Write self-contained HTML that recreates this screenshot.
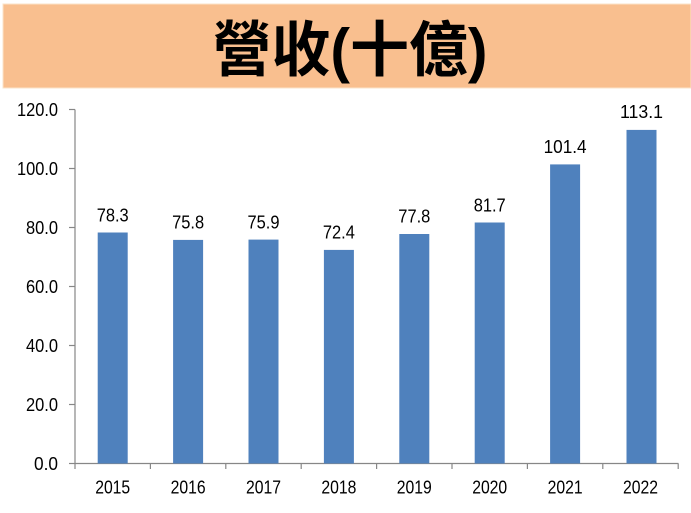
<!DOCTYPE html>
<html>
<head>
<meta charset="utf-8">
<style>
html,body{margin:0;padding:0;background:#fff;}
svg{display:block;}
</style>
</head>
<body>
<svg width="691" height="513" viewBox="0 0 691 513" xmlns="http://www.w3.org/2000/svg">
  <rect x="0" y="0" width="691" height="513" fill="#ffffff"/>
  <!-- banner -->
  <rect x="3" y="4" width="688" height="84" fill="#F9BF8F" stroke="#FBE3C8" stroke-width="1"/>
  <text x="350" y="71" text-anchor="middle" font-family="'Liberation Sans','Noto Sans CJK TC',sans-serif" font-weight="bold" font-size="60" fill="#000" textLength="275" lengthAdjust="spacingAndGlyphs">營收(十億)</text>

  <!-- axes -->
  <g stroke="#878787" stroke-width="1.2" fill="none">
    <line x1="75" y1="109.5" x2="75" y2="463.5"/>
    <line x1="75" y1="463.5" x2="678.5" y2="463.5"/>
    <line x1="69" y1="109.5" x2="75" y2="109.5"/>
    <line x1="69" y1="168.5" x2="75" y2="168.5"/>
    <line x1="69" y1="227.5" x2="75" y2="227.5"/>
    <line x1="69" y1="286.5" x2="75" y2="286.5"/>
    <line x1="69" y1="345.5" x2="75" y2="345.5"/>
    <line x1="69" y1="404.5" x2="75" y2="404.5"/>
    <line x1="69" y1="463.5" x2="75" y2="463.5"/>
    <line x1="75" y1="463.5" x2="75" y2="469"/>
    <line x1="150.4" y1="463.5" x2="150.4" y2="469"/>
    <line x1="225.8" y1="463.5" x2="225.8" y2="469"/>
    <line x1="301.2" y1="463.5" x2="301.2" y2="469"/>
    <line x1="376.6" y1="463.5" x2="376.6" y2="469"/>
    <line x1="452" y1="463.5" x2="452" y2="469"/>
    <line x1="527.4" y1="463.5" x2="527.4" y2="469"/>
    <line x1="602.8" y1="463.5" x2="602.8" y2="469"/>
    <line x1="678.2" y1="463.5" x2="678.2" y2="469"/>
  </g>

  <!-- y labels -->
  <g font-family="'Liberation Sans',sans-serif" font-size="18" fill="#000" text-anchor="end" lengthAdjust="spacingAndGlyphs">
    <text x="58" y="116" textLength="41" lengthAdjust="spacingAndGlyphs">120.0</text>
    <text x="58" y="175" textLength="41" lengthAdjust="spacingAndGlyphs">100.0</text>
    <text x="58" y="234" textLength="32" lengthAdjust="spacingAndGlyphs">80.0</text>
    <text x="58" y="293" textLength="32" lengthAdjust="spacingAndGlyphs">60.0</text>
    <text x="58" y="352" textLength="32" lengthAdjust="spacingAndGlyphs">40.0</text>
    <text x="58" y="411" textLength="32" lengthAdjust="spacingAndGlyphs">20.0</text>
    <text x="58" y="470" textLength="24" lengthAdjust="spacingAndGlyphs">0.0</text>
  </g>

  <!-- bars -->
  <g fill="#4F81BD">
    <rect x="97.7" y="232.5" width="30" height="231"/>
    <rect x="173.1" y="239.9" width="30" height="223.6"/>
    <rect x="248.5" y="239.6" width="30" height="223.9"/>
    <rect x="323.9" y="249.9" width="30" height="213.6"/>
    <rect x="399.3" y="234.0" width="30" height="229.5"/>
    <rect x="474.7" y="222.5" width="30" height="241"/>
    <rect x="550.1" y="164.4" width="30" height="299.1"/>
    <rect x="626.5" y="129.9" width="30" height="333.6"/>
  </g>

  <!-- value labels -->
  <g font-family="'Liberation Sans',sans-serif" font-size="18" fill="#000" text-anchor="middle">
    <text x="112.7" y="221.5" textLength="32" lengthAdjust="spacingAndGlyphs">78.3</text>
    <text x="188.1" y="228.5" textLength="32" lengthAdjust="spacingAndGlyphs">75.8</text>
    <text x="263.5" y="228.5" textLength="32" lengthAdjust="spacingAndGlyphs">75.9</text>
    <text x="338.9" y="238.5" textLength="32" lengthAdjust="spacingAndGlyphs">72.4</text>
    <text x="414.3" y="222.5" textLength="32" lengthAdjust="spacingAndGlyphs">77.8</text>
    <text x="489.7" y="211.5" textLength="32" lengthAdjust="spacingAndGlyphs">81.7</text>
    <text x="565.1" y="153" textLength="43" lengthAdjust="spacingAndGlyphs">101.4</text>
    <text x="641.5" y="118" textLength="43" lengthAdjust="spacingAndGlyphs">113.1</text>
  </g>

  <!-- x labels -->
  <g font-family="'Liberation Sans',sans-serif" font-size="18" fill="#000" text-anchor="middle">
    <text x="112.7" y="493.5" textLength="35" lengthAdjust="spacingAndGlyphs">2015</text>
    <text x="188.1" y="493.5" textLength="35" lengthAdjust="spacingAndGlyphs">2016</text>
    <text x="263.5" y="493.5" textLength="35" lengthAdjust="spacingAndGlyphs">2017</text>
    <text x="338.9" y="493.5" textLength="35" lengthAdjust="spacingAndGlyphs">2018</text>
    <text x="414.3" y="493.5" textLength="35" lengthAdjust="spacingAndGlyphs">2019</text>
    <text x="489.7" y="493.5" textLength="35" lengthAdjust="spacingAndGlyphs">2020</text>
    <text x="565.1" y="493.5" textLength="35" lengthAdjust="spacingAndGlyphs">2021</text>
    <text x="640.5" y="493.5" textLength="35" lengthAdjust="spacingAndGlyphs">2022</text>
  </g>
</svg>
</body>
</html>
